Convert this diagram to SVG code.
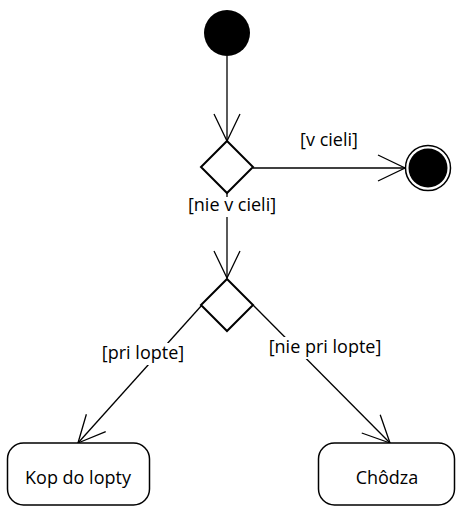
<svg xmlns="http://www.w3.org/2000/svg" width="456" height="507" viewBox="0 0 456 507">
  <style>
    .edge { fill: none; stroke: #000; stroke-width: 1.3; }
    .dec { fill: #fff; stroke: #000; stroke-width: 2; }
    .act { fill: #fff; stroke: #000; stroke-width: 1.5; }
    .lbl { font-family: "Open Sans", "Liberation Sans", sans-serif; font-size: 18px; fill: #000; text-anchor: middle; }
    .bg { fill: #fff; stroke: none; }
  </style>
  <defs>
    <marker id="arr" markerUnits="userSpaceOnUse" markerWidth="40" markerHeight="40" viewBox="-30 -20 40 40" refX="0" refY="0" orient="auto">
      <path d="M -27,-13 L 0,0 L -27,13" fill="none" stroke="#000" stroke-width="1.3"/>
    </marker>
  </defs>
  <rect width="456" height="507" fill="#fff"/>
  <g id="connectors">
    <line class="edge" x1="227" y1="56" x2="227" y2="141" marker-end="url(#arr)"/>
    <line class="edge" x1="253" y1="168" x2="405" y2="168" marker-end="url(#arr)"/>
    <line class="edge" x1="227" y1="193" x2="227" y2="278" marker-end="url(#arr)"/>
    <line class="edge" x1="202" y1="305" x2="78" y2="443" marker-end="url(#arr)"/>
    <line class="edge" x1="253" y1="305" x2="390" y2="443" marker-end="url(#arr)"/>
    <text class="lbl" x="329" y="146">[v cieli]</text>
    <rect class="bg" x="184" y="197" width="96" height="20"/>
    <text class="lbl" x="232" y="211">[nie v cieli]</text>
    <rect class="bg" x="99" y="343" width="88" height="22"/>
    <text class="lbl" x="143" y="359">[pri lopte]</text>
    <rect class="bg" x="264" y="337" width="122" height="22"/>
    <text class="lbl" x="325" y="353">[nie pri lopte]</text>
  </g>
  <g id="start">
    <circle cx="227" cy="33" r="23" fill="#000"/>
  </g>
  <g id="decision1">
    <polygon class="dec" points="227,141 253,167 227,193 201,167"/>
  </g>
  <g id="end">
    <circle cx="428" cy="168" r="22.5" fill="#fff" stroke="#000" stroke-width="1.5"/>
    <circle cx="428" cy="168" r="19.5" fill="#000"/>
  </g>
  <g id="decision2">
    <polygon class="dec" points="227,279 253,305 227,331 201,305"/>
  </g>
  <g id="kop">
    <rect class="act" x="7.5" y="443" width="142" height="62" rx="16" ry="16"/>
    <text class="lbl" x="78" y="484">Kop do lopty</text>
  </g>
  <g id="chodza">
    <rect class="act" x="318.5" y="443" width="136" height="62" rx="16" ry="16"/>
    <text class="lbl" x="387" y="484">Chôdza</text>
  </g>
</svg>
